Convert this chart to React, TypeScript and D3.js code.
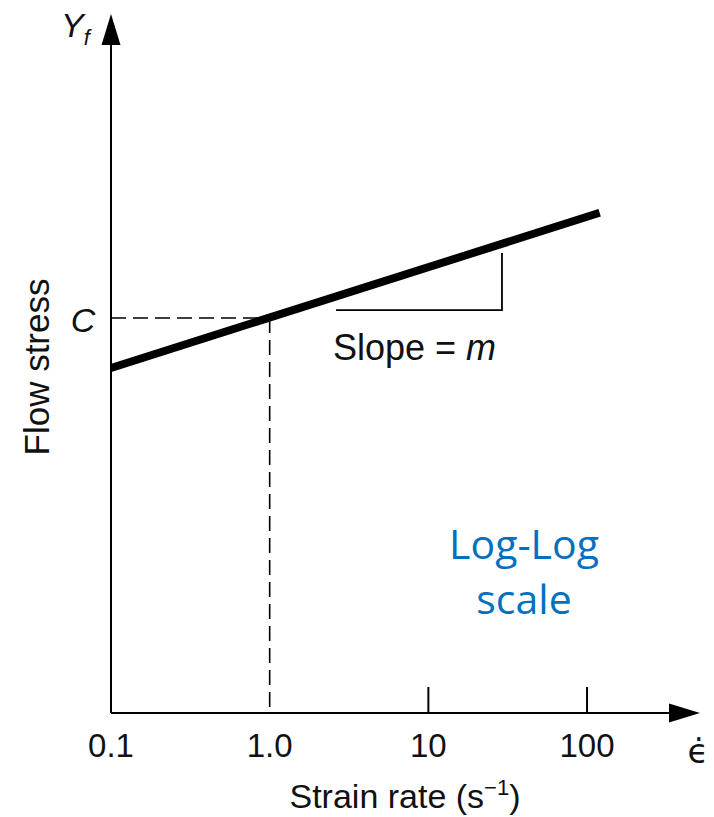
import * as d3 from 'd3';
import React from 'react';

// strain rate (s^-1) and flow stress (relative to C) for the log-log line
const strainRates = [0.1, 120];
const flowStress = [0.484, 4.6];
const cValue = 1;
const cRate = 1.0;

// tick values on the strain-rate axis
const tickValues = [0.1, 1, 10, 100];
const tickLabels = ['0.1', '1.0', '10', '100'];

// slope triangle corners (rate, stress)
const slopeRates = [2.62, 29.1];
const slopeStress = [1.12, 2.57];

const W = 714;
const H = 817;

const App = () => {
    const x = d3.scaleLog().domain([0.1, 515]).range([111, 700]);
    const y = d3.scaleLog().domain([0.00324, 82.3]).range([713, 14]);

    const line = d3.line<[number, number]>()
        .x((d) => x(d[0]))
        .y((d) => y(d[1]));
    const pts: [number, number][] = strainRates.map((r, i) => [r, flowStress[i]]);

    const x0 = x.range()[0];
    const xEnd = x.range()[1];
    const y0 = y.range()[0];
    const yTop = y.range()[1];
    const font = '"Liberation Sans", Arial, sans-serif';

    return (
        <svg width={W} height={H} style={{ position: 'absolute', left: 0, top: 0, background: '#fff' }}>
            {/* axes */}
            <line x1={x0} y1={y0} x2={x0} y2={yTop + 28} stroke="#000" strokeWidth={2} />
            <path d={`M${x0},${yTop} L${x0 - 9.5},${yTop + 31} L${x0 + 9.5},${yTop + 31} Z`} fill="#000" />
            <line x1={x0} y1={y0} x2={xEnd - 28} y2={y0} stroke="#000" strokeWidth={2} />
            <path d={`M${xEnd},${y0} L${xEnd - 31},${y0 - 9.5} L${xEnd - 31},${y0 + 9.5} Z`} fill="#000" />

            {/* ticks */}
            {tickValues.filter((t) => t >= 10).map((t) => (
                <line key={t} x1={x(t)} x2={x(t)} y1={y0} y2={y0 - 26} stroke="#000" strokeWidth={2} />
            ))}
            {tickValues.map((t, i) => (
                <text key={t} x={x(t)} y={757} textAnchor="middle" fontFamily={font} fontSize={33} fill="#111">
                    {tickLabels[i]}
                </text>
            ))}

            {/* dashed guides to C */}
            <line x1={x0} x2={x(cRate)} y1={y(cValue)} y2={y(cValue)} stroke="#000" strokeWidth={1.6} strokeDasharray="15,7" />
            <line x1={x(cRate)} x2={x(cRate)} y1={y(cValue)} y2={y0} stroke="#000" strokeWidth={1.6} strokeDasharray="15,7" />

            {/* slope triangle */}
            <path
                d={`M${x(slopeRates[0])},${y(slopeStress[0])} L${x(slopeRates[1])},${y(slopeStress[0])} L${x(slopeRates[1])},${y(slopeStress[1])}`}
                fill="none" stroke="#000" strokeWidth={1.8}
            />

            {/* main line */}
            <path d={line(pts) || ''} fill="none" stroke="#000" strokeWidth={8} strokeLinecap="butt" />

            {/* labels */}
            <text x={83} y={332} textAnchor="middle" fontFamily={font} fontSize={34} fontStyle="italic" fill="#111">C</text>
            <text x={61} y={37} fontFamily={font} fontSize={34} fontStyle="italic" fill="#111">
                Y<tspan fontSize={22} dy={8}>f</tspan>
            </text>
            <text x={333} y={360} fontFamily={font} fontSize={36} fill="#111">
                Slope = <tspan fontStyle="italic">m</tspan>
            </text>
            <text x={698} y={763} textAnchor="middle" fontFamily='"DejaVu Sans", sans-serif' fontSize={34} fill="#111">
                {'\u03F5\u0307'}
            </text>
            <text x={405} y={808} textAnchor="middle" fontFamily={font} fontSize={34} fill="#111">
                Strain rate (s<tspan fontSize={22} dy={-13}>{'\u22121'}</tspan><tspan dy={13}>)</tspan>
            </text>
            <text transform="translate(49,367) rotate(-90)" textAnchor="middle" fontFamily={font} fontSize={35} fill="#111">
                Flow stress
            </text>
            <text x={524} y={559} textAnchor="middle" fontFamily='"Open Sans", sans-serif' fontSize={41} fill="#0070C0">Log-Log</text>
            <text x={524} y={614} textAnchor="middle" fontFamily='"Open Sans", sans-serif' fontSize={41} fill="#0070C0">scale</text>
        </svg>
    );
};

export default App;
